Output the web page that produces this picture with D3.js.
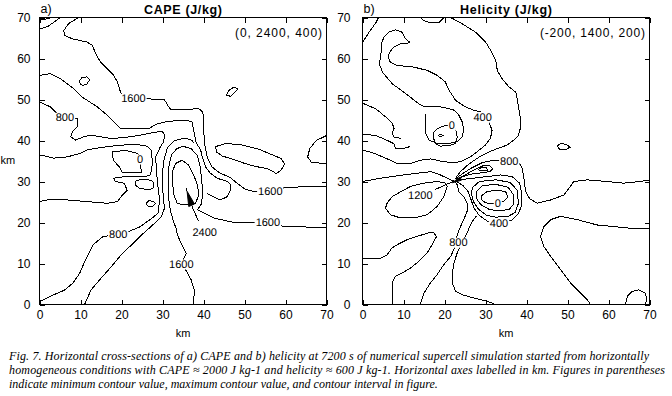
<!DOCTYPE html>
<html>
<head>
<meta charset="utf-8">
<script src="https://cdn.jsdelivr.net/npm/d3@7"></script>
<style>
  body { margin: 0; background: #fff; }
  svg { display: block; }
  text { font-family: "Liberation Sans", Arial, sans-serif; fill: #000; }
</style>
</head>
<body>
<svg id="chart" width="672" height="396"></svg>
<script>
// axis ticks (km)
const kmTicks = [0, 10, 20, 30, 40, 50, 60, 70];

// ---- a) CAPE contour lines, [km east, km north] ----
const capeCorner1 = [[0,69.3],[1.5,69.6],[3,70]];
const capeCorner2 = [[0,67.2],[2,67.8],[3.7,69],[5,70]];
const cape1600North = [[9.5,70],[7.1,68.5],[5.9,66.8],[6.2,65.6],[8,64.8],[11.6,64],[12.9,63.2],[13.7,61.2],[14.9,59.1],[16.5,57.5],[18.1,55.9],[19,54.3],[19.6,52.3],[20.3,50.5],[26,50.2],[30.5,49.9],[31.4,48.4],[32,47.6],[35.5,47.5],[38.8,47.8],[39.8,47],[40.1,45],[40.1,41.7],[40.3,39],[40.9,36],[42,33.6],[44.1,32],[46.5,31],[48.3,29.5],[50,28.2],[52,27.6],[56.5,27.6],[60.2,28.6],[65,28.7],[70,28.8]];
const cape1200 = [[0,55.9],[2.7,56.3],[5.1,55.1],[8,52.9],[10.4,50.6],[14.1,48.2],[16.5,46.2],[19.8,42.9],[26.7,42.9],[28.5,44],[31.1,44.6],[35.2,45],[37.2,44.6],[37.6,42.5],[38.2,39.5],[39.3,37.7],[39.7,36],[40.5,33.6],[41.7,32],[43.3,30.8],[45.8,30],[46.6,29.2],[46.6,27.9],[45.8,26.3],[44.1,25.5],[42.4,26.3],[40.9,27.1]];
const cape800 = [[0,49.4],[2.7,48.2],[4,46.8],[6,45.8],[9.2,45.3],[9.4,43.5],[8,42.1],[7.6,40.9],[8.8,40.1],[10.8,40.9],[12.4,41.3],[14.9,40.9],[17.5,40.5],[20.6,40.7],[24.6,41.3],[28.7,42.1],[29.9,42.3],[30.5,41.3],[30.3,39.7],[29.5,38.5],[28.3,36],[28.5,33.6],[28.7,30.4],[29,28],[29.3,25.5],[28.9,22.2],[26.8,20.6],[24.4,18.9],[21.5,17.7],[19,17.2],[15.4,16.5],[13,14.5],[12.2,12.9],[11,10.4],[9.8,7.6],[8.1,5.2],[6.1,3.5],[3.3,2.3],[0,0.7]];
const capeArc = [[11,0],[12.6,3.6],[15,6.4],[17.5,9.2],[19.9,12.1],[22.4,14.5],[24.8,16.9],[27.2,19],[29.7,21.4],[30.5,23.5],[30.2,26],[30,29],[30,32],[30.3,35],[31.2,38.3],[33,40],[35.5,40.6],[37.2,40],[37.6,39.3]];
const cape1600South = [[37.5,0],[37.8,3.3],[37,6],[35.8,8.2],[34.6,10],[35.8,12.5],[35,14],[33.7,16.8],[33.3,18.6],[32.6,20.5],[31.9,23],[31.5,26],[31.4,30],[31.6,34],[32.2,36.5],[33.5,38],[35,38.6],[37,38],[38.5,36.3],[39.2,33.5],[39.6,30],[39.8,27],[39.5,24.5],[38.5,23.1],[40.1,22.3],[42.5,21.1],[47.4,20],[50.7,19.9],[55.7,20.2],[59.6,19],[65,18.9],[70,18.9]];
const capeCore = [[34.8,35.2],[36.4,34],[37.6,31.6],[38.5,29.2],[38.9,26.7],[38,24.7],[36.8,24.3],[35.2,24.3],[33.6,24.7],[32.8,26.7],[32.4,30],[32.4,32.4],[33.2,34.4],[34.8,35.2]];
const cape400 = [[0,36.5],[3.5,35.7],[6.8,36],[10,36.9],[11.6,37.7],[14.5,38.2],[17.3,38.6],[20.5,38.9],[24,39],[26.3,38.6],[27.3,37.5],[27.5,35],[27.4,33],[27,31.6],[26,31.3],[21,31.2],[18.1,30.8],[18.5,30],[20.6,29.6],[21.4,27.9],[20.2,26.7],[19,25.1],[16.5,24.7],[11.6,25.1],[6.8,25.5],[2.7,25.7],[0,25.1]];
const cape0 = [[17.7,37.2],[21.1,37.6],[24,36.8],[24.6,35.5],[24.8,32.3],[20.3,32.1],[19.5,33.5],[18,35.2],[17.7,37.2]];
const capeBar = [[23.5,30.2],[25.2,30.6],[27.2,30.3],[27.9,29.6],[27.9,28.5],[26.8,28],[24.4,28.3],[23.4,29.1],[23.5,30.2]];
const capeDot = [[26,24.7],[26.6,25.3],[27.8,25.2],[28.3,24.6],[27.6,24],[26.5,23.9],[26,24.7]];
const capeEast = [[42.9,38.5],[45.6,39.3],[49.3,38.9],[53.4,37.9],[56.1,36.8],[58.9,35.6],[59.8,34.3],[58.9,32.7],[57.7,31.9],[56.9,32.5],[55.3,33.2],[52.5,33.7],[49.8,34.5],[47,35.5],[44.6,36.2],[43.2,37.2],[42.9,38.5]];
const capeEdge = [[70,41.2],[67.5,40],[65.9,38],[65.4,36],[66.3,34.7],[70,34.3]];
const capeBlobW = [[9.8,54.6],[10.4,55.4],[11.6,55.5],[12.2,54.8],[11.6,53.8],[10.6,53.4],[9.9,53.8],[9.8,54.6]];
const capeBlobE = [[45.6,51],[46.2,52.2],[47.4,53],[48.4,52.6],[47.6,51.8],[46.6,50.8],[45.6,51]];
const capeArrow = [[36,27.6],[36.4,23.9],[37.8,24.5]];
const capeLeaders = [[[35.8,28.4],[36,27.6]], [[37.2,23.9],[38.8,20.3]]];
const capeLabels = [
  {t: "1600", x: 22.9, y: 50.4}, {t: "800", x: 6.2, y: 45.8}, {t: "0", x: 24.5, y: 35.6},
  {t: "1600", x: 56.3, y: 27.6}, {t: "1600", x: 55.7, y: 20.2}, {t: "2400", x: 40.3, y: 17.6},
  {t: "800", x: 19.2, y: 17.2}, {t: "1600", x: 34.6, y: 10}
];

// ---- b) Helicity contour lines ----
const helCorner = [[0,63.9],[1.6,66.4],[3.3,68.8],[3.9,70]];
const helTop = [[14.2,70],[15,69.2],[16.3,68.8],[18.7,68.8],[19.5,69.6],[19.9,70]];
const helBig = [[21.5,70],[24.4,68.4],[27.6,66.4],[30.1,63.9],[31.3,61.9],[32.5,59.5],[32.9,57],[34.1,55],[35.8,53],[37.4,51.8],[37.8,49.7],[38.2,47.3],[38.6,44.9],[38.6,43.3],[38,41.2],[36.9,40.1],[35.3,38.9],[33.7,38.3],[31.2,37.4],[29,36.3],[27,35],[25.3,33.7],[23.9,32.4],[22.8,31]];
const helTongue = [[28.8,47],[27.1,47.4],[25.1,48.2],[22.7,49.8],[21.1,52.3],[20.2,54.3],[18.2,55.9],[15.8,57.1],[12.5,57.9],[8.5,58.3],[6.8,59.1],[6.2,60.4],[6.7,61.6],[7.6,62.8],[9.3,63.6],[10.9,63.6],[11.5,64],[10.5,64.8],[9.7,66.4],[8,67],[6.4,66.4],[5.2,65.2],[4.6,63.5],[4.5,61],[4.1,58.7],[4.9,56.6],[7.3,53.8],[10.6,51.4],[13.8,48.9],[15.3,48.2],[17.5,48.4],[19,48.2],[21,47.8],[22.3,47.4],[23.5,46.2],[24.3,44.6],[24.7,42.5],[24.3,40.9],[23.1,39.7],[21.1,39.3],[18.2,39.3],[16.2,40.1],[15.4,41.7],[15.4,46.5]];
const hel400West = [[30.8,44.6],[31.6,42.5],[31.2,40.5],[30,38.9],[28,37.3],[26.3,36],[23.9,34.8],[21.5,34.6],[19,35],[16.6,35.5],[14.1,35.2],[11.7,34.4],[8.5,34.4],[5.6,35.7],[2.8,36.9],[0,37.7]];
const hel0North = [[17.4,42.1],[18.2,42.9],[20.2,43.7],[21.9,43.9],[22.7,42.9],[23.1,40.9],[22.7,39.3],[21.5,38.9],[19,38.6],[17.8,39.3],[17.2,40.9],[17.4,42.1]];
const helDotNorth = [[18.5,41.2],[19,41.5],[19.6,41.2],[19,40.9],[18.5,41.2]];
const helWestA = [[0,49.1],[3.3,47.7],[5.7,45.7],[7.3,44.1],[7.7,42.9],[7.2,41.8],[7.7,40.8],[9.5,40.5]];
const helWestB = [[0,41.6],[3.3,41.2],[6.1,40],[7.7,39.2],[8.1,38],[9.8,38],[11.5,38.5]];
const helWest30 = [[0,30],[4.4,30.8],[8.5,31.4],[13.3,32],[16.6,32.4],[19,31.6],[21.5,30.4],[22.3,30.2]];
const hel1200 = [[6,24.7],[7.2,26.3],[9.3,27.5],[11.7,28.8],[15,29.6],[18.2,30],[20.2,29.6],[20.7,28.8],[19.8,26.3],[18.2,23.9],[15.8,21.9],[12.5,21.1],[9.3,21.1],[6.8,21.9],[5.6,23.5],[6,24.7]];
const hel800South = [[14.1,0],[15,2.8],[16.6,5.3],[18.2,7.3],[19.8,9.7],[21.5,11.7],[22.5,14],[23.1,17],[23.9,19],[24.7,20.7],[25.5,22.7],[25.7,24.3],[24.7,26.3],[23.5,27.5],[23.1,29.2],[22.6,30]];
const helSW = [[0,11.3],[4.4,11.3],[6,12.1],[7.2,13.8],[8.5,14.6],[10.9,15.8],[13.3,16.6],[15.8,17.4],[17.4,17.6],[18,16.5],[17,14.6],[15.8,12.6],[13.7,10.5],[11.7,8.9],[9.7,7.7],[8,6.9],[7.2,5.3],[7.2,0]];
const helSouth = [[32.4,0],[30.4,0.8],[27.1,1.6],[24.3,2.4],[22.7,3.2],[21.9,5.3],[21.9,7.7],[22.3,10.1],[23.1,12.6],[24.3,15],[25.5,17.4],[26.3,19.4],[27.1,20.7],[27.8,21.6]];
const hel800 = [[22.7,30.7],[24.4,31.9],[26.6,33.3],[29.2,34.6],[31.5,35.1],[33.5,35],[35.8,34.9],[38.2,34.5],[38.9,33.3],[39.3,31.5],[39.5,29.5],[39.8,27.5],[40.8,25.8],[42.6,24.7],[45.9,25.5],[49.1,26.7],[50.7,28.8],[51.5,30],[54.8,30.4],[59.7,30],[63.7,29.6],[67.8,30],[70,30.4]];
const helLobeNE = [[23,30.6],[25,31.6],[27.2,32.8],[29.3,33.8],[31,33.9],[31.8,33.1],[31,32.4],[29,32.1],[26.5,31.8],[24.5,31.2],[23,30.6]];
const helDotNE = [[28.3,33],[29,33.4],[30.2,33.3],[30.5,32.8],[29.6,32.6],[28.6,32.6],[28.3,33]];
const hel400 = [[22.8,30.3],[26,30.7],[30.4,31.2],[33.7,31.6],[36.5,31.2],[38.3,29.6],[38.9,27],[38.8,24],[37.9,22],[36.5,20.6],[33.3,19.8],[30.5,20.3],[28.5,21.7],[27.2,23.5],[26.5,25.5],[25.8,27.5],[24.5,29],[22.8,30.1]];
const hel200 = [[26.8,28.5],[28.5,30],[32.5,30.4],[36,29.8],[37.8,27.8],[38,24.6],[37.2,22.4],[35.5,21.5],[32.5,21.3],[30.2,21.8],[28.3,23.2],[27,25.2],[26.6,27],[26.8,28.5]];
const hel0South = [[27.8,27.6],[29.3,29],[32.5,29.3],[35.5,28.6],[36.8,26.8],[36.8,24.4],[35.8,23.2],[33.3,22.8],[30.9,23.2],[28.8,24.4],[27.7,26],[27.8,27.6]];
const helMin = [[29,26.5],[30.5,27.6],[33.3,27.9],[35,27.4],[35.4,26.1],[34.6,25.3],[33,24.8],[31.3,24.6],[30,24.8],[29,25.6],[29,26.5]];
const helSE = [[70,18.6],[65.4,18.6],[61.3,19],[57.2,19.4],[52.4,20.7],[48.3,21.5],[45.9,20.7],[44.2,19],[43.4,16.6],[44.2,14.2],[45.9,11.7],[48.3,8.5],[50.7,5.3],[53.2,2.8],[54.8,1.2],[55.6,0]];
const helCornerSE = [[64.1,0],[64.6,2],[65.8,3.2],[67.4,3.6],[69,2.8],[69.3,1.2],[69,0]];
const helBlobE = [[47.5,38.6],[48.3,39.3],[49.5,39.1],[50.7,38.4],[49.6,37.8],[48.2,37.7],[47.5,38.6]];
const helArrow = [[21.9,29.7],[23.8,31.1],[24.1,30.3]];
const helLeaders = [[[17.6,28],[22.3,30.1]]];
const helLabels = [
  {t: "400", x: 29.3, y: 45.8}, {t: "0", x: 21.8, y: 43.9}, {t: "800", x: 35.8, y: 34.9},
  {t: "1200", x: 14.1, y: 26.8}, {t: "0", x: 33, y: 24.8}, {t: "400", x: 33.3, y: 19.9},
  {t: "800", x: 23.4, y: 15.3}
];

const captionLines = [
  "Fig. 7.  Horizontal cross-sections of a) CAPE and b) helicity at 7200 s of numerical supercell simulation started from horizontally",
  "homogeneous conditions with CAPE \u2248 2000 J kg-1 and helicity \u2248 600 J kg-1.  Horizontal axes labelled in km.  Figures in parentheses",
  "indicate minimum contour value, maximum contour value, and contour interval in figure."
];
const captionWidths = [640, 656, null];

const panels = [
  {tag: "a)", title: "CAPE (J/kg)", titleW: 78, note: "(0, 2400, 400)", noteW: 87, left: 39.5, right: 326.5, labGap: 9, yTitle: true,
   lines: [capeCorner1, capeCorner2, cape1600North, cape1200, cape800, capeArc, cape1600South, capeCore,
           cape400, cape0, capeBar, capeDot, capeEast, capeEdge, capeBlobW, capeBlobE],
   arrow: capeArrow, leaders: capeLeaders, labels: capeLabels},
  {tag: "b)", title: "Helicity (J/kg)", titleW: 92, note: "(-200, 1400, 200)", noteW: 105, left: 362.5, right: 649.5, labGap: 12, yTitle: false,
   lines: [helCorner, helTop, helBig, helTongue, hel400West, hel0North, helDotNorth, helWestA, helWestB, helWest30,
           hel1200, hel800South, helSW, helSouth, hel800, helLobeNE, helDotNE, hel400, hel200, hel0South, helMin,
           helSE, helCornerSE, helBlobE],
   arrow: helArrow, leaders: helLeaders, labels: helLabels}
];

const svg = d3.select("#chart");
const plotTop = 17.5, plotBottom = 304.5;

panels.forEach(p => {
  const x = d3.scaleLinear().domain([0, 70]).range([p.left, p.right]);
  const y = d3.scaleLinear().domain([0, 70]).range([plotBottom, plotTop]);
  const g = svg.append("g");

  const line = d3.line().x(d => x(d[0])).y(d => y(d[1]));

  // contours
  g.append("g").selectAll("path")
    .data(p.lines)
    .enter()
    .append("path")
    .attr("d", line)
    .attr("fill", "none")
    .attr("stroke", "#000")
    .attr("stroke-width", 1)
    .style("shape-rendering", "crispEdges");

  g.append("g").selectAll("path")
    .data(p.leaders)
    .enter()
    .append("path")
    .attr("d", line)
    .attr("fill", "none")
    .attr("stroke", "#000")
    .style("shape-rendering", "crispEdges");

  g.append("path")
    .attr("d", line(p.arrow) + "Z")
    .attr("fill", "#000")
    .attr("stroke", "#000");

  // contour labels, with white boxes cutting the lines
  const lab = g.append("g").selectAll("g")
    .data(p.labels)
    .enter()
    .append("g");
  lab.append("text")
    .attr("x", d => x(d.x))
    .attr("y", d => y(d.y) + 4)
    .attr("text-anchor", "middle")
    .attr("fill", "#000")
    .style("font-size", "11px")
    .style("text-rendering", "geometricPrecision")
    .text(d => d.t);
  lab.each(function() {
    const t = d3.select(this).select("text");
    const b = t.node().getBBox();
    d3.select(this).insert("rect", "text")
      .attr("x", b.x - 1).attr("y", b.y + 1)
      .attr("width", b.width + 2).attr("height", b.height - 2)
      .attr("fill", "#fff");
  });

  // axes, ticks inside the frame
  const axB = g.append("g").attr("transform", "translate(0," + plotBottom + ")")
    .call(d3.axisBottom(x).tickValues(kmTicks).tickSize(-5).tickPadding(6).tickFormat(d3.format("d")));
  const axT = g.append("g").attr("transform", "translate(0," + plotTop + ")")
    .call(d3.axisTop(x).tickValues(kmTicks).tickSize(-5).tickFormat(""));
  const axL = g.append("g").attr("transform", "translate(" + p.left + ",0)")
    .call(d3.axisLeft(y).tickValues(kmTicks).tickSize(-5).tickPadding(p.labGap).tickFormat(d3.format("d")));
  const axR = g.append("g").attr("transform", "translate(" + p.right + ",0)")
    .call(d3.axisRight(y).tickValues(kmTicks).tickSize(-5).tickFormat(""));
  [axB, axT, axL, axR].forEach(a => {
    a.select(".domain").remove();
    a.selectAll("line").attr("stroke", "#000").style("shape-rendering", "crispEdges");
    a.selectAll("text").style("font-size", "12px").style("font-family", "'Liberation Sans', Arial, sans-serif").attr("fill", "#000");
  });

  g.append("rect")
    .attr("x", p.left).attr("y", plotTop)
    .attr("width", p.right - p.left).attr("height", plotBottom - plotTop)
    .attr("fill", "none").attr("stroke", "#000")
    .style("shape-rendering", "crispEdges");

  // titles and notes
  g.append("text").attr("x", p.left + 1).attr("y", 13).style("font-size", "12.5px").text(p.tag);
  g.append("text").attr("x", (p.left + p.right) / 2).attr("y", 14)
    .attr("text-anchor", "middle").style("font-size", "12.5px").style("font-weight", "bold")
    .attr("textLength", p.titleW).attr("lengthAdjust", "spacing").text(p.title);
  g.append("text").attr("x", p.right - 4.5).attr("y", 37)
    .attr("text-anchor", "end").style("font-size", "12px")
    .attr("textLength", p.noteW).attr("lengthAdjust", "spacing").text(p.note);
  g.append("text").attr("x", (p.left + p.right) / 2).attr("y", 337)
    .attr("text-anchor", "middle").style("font-size", "11px").text("km");
  if (p.yTitle) {
    g.append("text").attr("x", 0.5).attr("y", 164).style("font-size", "11px").text("km");
  }
});

// caption
svg.append("g").selectAll("text")
  .data(captionLines)
  .enter()
  .append("text")
  .attr("x", 9)
  .attr("y", (d, i) => 360 + i * 14)
  .attr("textLength", (d, i) => captionWidths[i])
  .attr("lengthAdjust", "spacing")
  .style("font-family", "'Liberation Serif', 'DejaVu Serif', serif")
  .style("font-style", "italic")
  .style("font-size", "12px")
  .text(d => d);
</script>
</body>
</html>
